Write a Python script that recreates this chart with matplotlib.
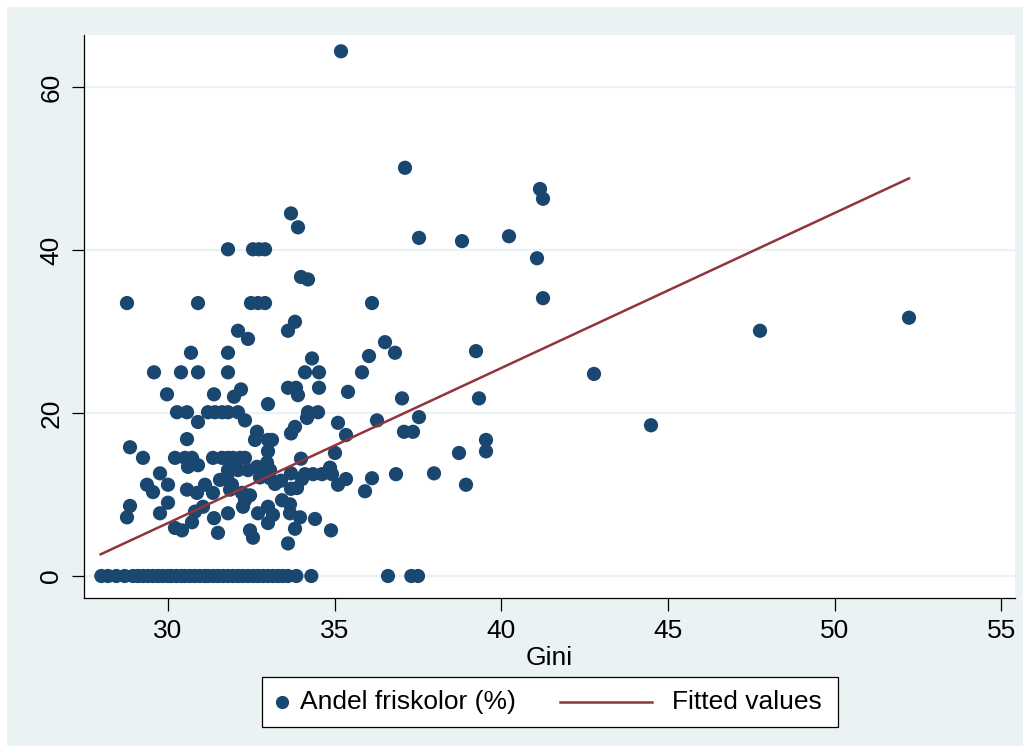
import numpy as np
import matplotlib
matplotlib.use("Agg")
import matplotlib.pyplot as plt
from matplotlib.lines import Line2D
from matplotlib.patches import Rectangle

# Gini coefficient vs. share of independent schools (%)
gini = [
    35.19, 37.11, 41.16, 41.25, 33.69, 33.90, 40.23, 37.53, 38.82, 31.80,
    32.55, 32.73, 32.91, 41.07, 33.99, 34.20, 41.25, 28.77, 30.90, 32.49,
    32.70, 32.91, 36.12, 33.81, 33.60, 32.10, 32.40, 47.76, 52.23, 36.51,
    36.81, 39.24, 30.69, 31.80, 34.32, 36.03, 29.58, 30.39, 30.90, 31.80,
    34.11, 34.53, 35.82, 42.78, 29.97, 31.38, 32.19, 31.98, 33.60, 33.84,
    33.90, 34.53, 35.40, 37.02, 39.33, 33.00, 30.27, 30.57, 31.20, 31.41,
    31.62, 31.80, 32.10, 34.20, 34.50, 32.31, 30.90, 34.17, 35.10, 36.27,
    37.53, 44.49, 37.08, 37.35, 32.67, 32.61, 33.00, 33.12, 30.57, 33.81,
    33.69, 35.34, 39.54, 39.54, 28.86, 33.00, 35.01, 38.73, 29.25, 30.21,
    30.51, 30.72, 31.35, 31.62, 31.80, 31.95, 32.16, 32.31, 33.99, 30.60,
    30.90, 31.92, 32.67, 32.97, 33.06, 31.80, 32.10, 32.40, 29.76, 33.69,
    34.11, 34.35, 34.62, 34.86, 34.92, 36.12, 36.84, 37.98, 35.10, 35.34,
    35.91, 38.94, 29.37, 29.55, 30.00, 30.57, 30.87, 31.11, 31.35, 31.56,
    31.77, 31.86, 31.92, 32.22, 32.31, 32.76, 33.06, 33.21, 33.39, 33.69,
    33.87, 34.02, 32.46, 33.42, 33.66, 28.86, 28.77, 29.76, 30.00, 30.21,
    30.42, 30.81, 30.72, 31.05, 31.38, 31.50, 31.80, 32.25, 32.70, 33.00,
    33.00, 33.15, 32.46, 32.55, 33.66, 33.96, 33.81, 33.60, 34.41, 34.89,
]
andel = [
    64.4, 50.1, 47.5, 46.3, 44.5, 42.8, 41.7, 41.5, 41.1, 40.1,
    40.1, 40.1, 40.1, 39.0, 36.7, 36.4, 34.1, 33.5, 33.5, 33.5,
    33.5, 33.5, 33.5, 31.2, 30.1, 30.1, 29.1, 30.1, 31.7, 28.7,
    27.4, 27.6, 27.4, 27.4, 26.7, 27.0, 25.0, 25.0, 25.0, 25.0,
    25.0, 25.0, 25.0, 24.8, 22.3, 22.3, 22.9, 22.0, 23.1, 23.1,
    22.2, 23.1, 22.6, 21.8, 21.8, 21.1, 20.1, 20.1, 20.1, 20.1,
    20.1, 20.1, 20.1, 20.1, 20.1, 19.1, 18.9, 19.4, 18.8, 19.1,
    19.5, 18.5, 17.7, 17.7, 17.7, 16.7, 16.7, 16.7, 16.8, 18.3,
    17.5, 17.3, 16.7, 15.3, 15.8, 15.3, 15.1, 15.1, 14.5, 14.5,
    14.5, 14.5, 14.5, 14.5, 14.5, 14.5, 14.5, 14.5, 14.4, 13.4,
    13.6, 13.9, 13.4, 13.9, 13.0, 13.0, 13.0, 13.0, 12.6, 12.6,
    12.5, 12.5, 12.5, 13.3, 12.5, 12.0, 12.5, 12.6, 11.2, 11.9,
    10.4, 11.2, 11.2, 10.3, 11.2, 10.6, 10.2, 11.2, 10.2, 11.8,
    12.1, 10.6, 11.2, 10.2, 9.3, 12.1, 12.0, 11.3, 11.7, 10.7,
    10.8, 11.9, 9.9, 9.3, 8.8, 8.6, 7.2, 7.7, 9.0, 5.9,
    5.6, 7.9, 6.6, 8.5, 7.1, 5.3, 7.7, 8.5, 7.7, 8.5,
    6.5, 7.5, 5.6, 4.7, 7.7, 7.2, 5.8, 4.0, 7.0, 5.6,
]
# units with no independent schools
gini_zero = [
    28.0, 28.2, 28.45, 28.7, 28.95, 29.1, 29.25, 29.4, 29.55, 29.7,
    29.85, 30.0, 30.1, 30.25, 30.4, 30.5, 30.65, 30.8, 30.95, 31.1,
    31.2, 31.35, 31.5, 31.65, 31.8, 31.95, 32.1, 32.25, 32.4, 32.55,
    32.7, 32.85, 33.0, 33.15, 33.3, 33.45, 33.6, 33.85, 34.3, 36.6,
    37.3, 37.5,
]

# fitted regression line (endpoints)
fit_x = [27.98, 52.23]
fit_y = [2.66, 48.8]

x_ticks = [30, 35, 40, 45, 50, 55]
y_ticks = [0, 20, 40, 60]
legend_labels = ["Andel friskolor (%)", "Fitted values"]

navy = "#1a476f"
maroon = "#90353b"
bg = "#eaf2f3"
W, H = 1030, 753

plt.rcParams["font.family"] = ["Liberation Sans", "DejaVu Sans"]

fig = plt.figure(figsize=(W / 100, H / 100), dpi=100, facecolor="white")
fig.patches.append(Rectangle((7 / W, 7 / H), 1016 / W, 739 / H,
                             transform=fig.transFigure, facecolor=bg,
                             edgecolor="none", zorder=-10))

ax = fig.add_axes([84 / W, 1 - 598 / H, 931 / W, 563 / H])
ax.set_facecolor("white")

all_x = np.array(gini + gini_zero)
all_y = np.array(andel + [0] * len(gini_zero))
ax.scatter(all_x, all_y, s=105, color=navy, edgecolors="none", zorder=3)
ax.plot(fit_x, fit_y, color=maroon, lw=1.8, zorder=4)

ax.set_xlim(27.48, 55.41)
ax.set_ylim(-2.7, 66.4)
ax.set_xticks(x_ticks)
ax.set_yticks(y_ticks)
ax.grid(axis="y", color=bg, lw=1.6, zorder=0)
ax.set_axisbelow(True)

for s in ["top", "right"]:
    ax.spines[s].set_visible(False)
for s in ["left", "bottom"]:
    ax.spines[s].set_linewidth(0.9)
    ax.spines[s].set_color("black")

ax.tick_params(axis="both", length=9, width=0.9, labelsize=19, pad=6)
for lab in ax.get_yticklabels():
    lab.set_rotation(90)
    lab.set_va("center")
ax.set_xlabel("Gini", fontsize=19, labelpad=2)

# legend drawn by hand so the marker key can be short and the line key long
ly = 1 - 702 / H
fig.patches.append(Rectangle((262 / W, 1 - 727 / H), 576 / W, 50 / H,
                             transform=fig.transFigure, facecolor="white",
                             edgecolor="black", lw=0.9, zorder=5))
fig.lines.append(Line2D([282 / W], [ly], transform=fig.transFigure,
                        marker="o", ls="none", color=navy, markersize=9.5,
                        markeredgewidth=0, zorder=6))
fig.lines.append(Line2D([560 / W, 652 / W], [ly, ly], transform=fig.transFigure,
                        color=maroon, lw=1.8, zorder=6))
fig.text(300 / W, ly, legend_labels[0], fontsize=19, va="center", ha="left", zorder=6)
fig.text(672 / W, ly, legend_labels[1], fontsize=19, va="center", ha="left", zorder=6)

fig.savefig("out.png", dpi=100, facecolor="white")
